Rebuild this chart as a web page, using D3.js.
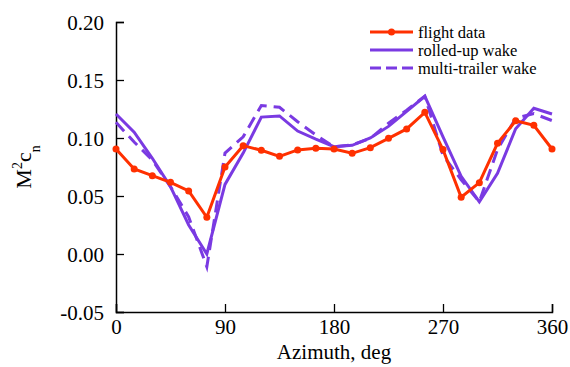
<!DOCTYPE html>
<html><head><meta charset="utf-8">
<script src="https://cdn.jsdelivr.net/npm/d3@7"></script>
<style>body{margin:0;background:#fff}svg{display:block}text{font-family:"Liberation Serif","Times New Roman",serif;fill:#000}</style>
</head><body>
<script>
const azimuth = [0,15,30,45,60,75,90,105,120,135,150,165,180,195,210,225,240,255,270,285,300,315,330,345,360];
const flightData = [0.0905,0.0733,0.0675,0.0618,0.0543,0.0316,0.075,0.0934,0.0894,0.0842,0.0897,0.0911,0.0905,0.0868,0.0917,0.0997,0.1078,0.1221,0.0900,0.0489,0.0615,0.0954,0.1149,0.1109,0.0905];
const rolledUp = [0.1207,0.105,0.0825,0.058,0.025,0.000,0.060,0.087,0.118,0.119,0.106,0.099,0.0925,0.0937,0.100,0.110,0.123,0.136,0.101,0.067,0.045,0.0695,0.108,0.1256,0.1207];
const multiTrailer = [0.1135,0.0965,0.081,0.058,0.032,-0.011,0.087,0.101,0.128,0.1265,0.114,0.1026,0.0925,0.094,0.0997,0.1127,0.124,0.136,0.085,0.064,0.045,0.090,0.117,0.121,0.115];
const xTicks = [0,90,180,270,360];
const yTicks = [-0.05,0,0.05,0.10,0.15,0.20];
const yTickLabels = ["-0.05","0.00","0.05","0.10","0.15","0.20"];
const seriesNames = ["flight data","rolled-up wake","multi-trailer wake"];

const W=570,H=367;
const red="#ff3000", purple="#7a3ae2";
const svg=d3.select("body").append("svg").attr("width",W).attr("height",H);
const x=d3.scaleLinear().domain([0,360]).range([116,552]);
const y=d3.scaleLinear().domain([-0.05,0.20]).range([312,22]);

// axes
const xAxis=d3.axisBottom(x).tickValues(xTicks).tickSize(-8).tickPadding(7).tickFormat(d3.format("d"));
const gx=svg.append("g").attr("transform","translate(0,312)").call(xAxis);
const yAxis=d3.axisLeft(y).tickValues(yTicks).tickSize(-8).tickPadding(12).tickFormat((d,i)=>yTickLabels[i]);
const gy=svg.append("g").attr("transform","translate(116,0)").call(yAxis);
[gx,gy].forEach(g=>{
  g.attr("font-family",null);
  g.select(".domain").attr("stroke","#000").attr("stroke-width",1.5);
  g.selectAll(".tick line").attr("stroke","#000").attr("stroke-width",1.3);
  g.selectAll(".tick text").style("font-family","'Liberation Serif'").style("font-size","21px").attr("fill","#000");
});
gy.selectAll(".tick text").attr("dy","0.35em");

const line=d3.line().x((d,i)=>x(azimuth[i])).y(d=>y(d));
svg.append("path").datum(rolledUp).attr("d",line).attr("fill","none").attr("stroke",purple).attr("stroke-width",3).attr("stroke-linejoin","miter");
svg.append("path").datum(multiTrailer).attr("d",line).attr("fill","none").attr("stroke",purple).attr("stroke-width",3).attr("stroke-dasharray","12,7");
svg.append("path").datum(flightData).attr("d",line).attr("fill","none").attr("stroke",red).attr("stroke-width",3);
svg.selectAll("circle.fd").data(flightData).enter().append("circle").attr("class","fd")
  .attr("cx",(d,i)=>x(azimuth[i])).attr("cy",d=>y(d)).attr("r",3.5).attr("fill",red);

// legend
const lg=svg.append("g");
const ly=[32,50,68];
seriesNames.forEach((n,i)=>{
  const l=lg.append("line").attr("x1",370).attr("x2",413).attr("y1",ly[i]).attr("y2",ly[i])
    .attr("stroke",i==0?red:purple).attr("stroke-width",3);
  if(i==2) l.attr("stroke-dasharray","11,5");
  if(i==0) lg.append("circle").attr("cx",391.5).attr("cy",ly[i]).attr("r",3.5).attr("fill",red);
  lg.append("text").attr("x",418).attr("y",ly[i]+5.5).style("font-size","16.5px").text(n);
});

// titles
svg.append("text").attr("x",334).attr("y",359).attr("text-anchor","middle").style("font-size","21px").text("Azimuth, deg");
const yl=svg.append("text").attr("transform","translate(31,167) rotate(-90)").attr("text-anchor","middle").style("font-size","22px");
yl.append("tspan").text("M");
yl.append("tspan").attr("dy","-9").style("font-size","14px").text("2");
yl.append("tspan").attr("dy","9").text("c");
yl.append("tspan").attr("dy","9").style("font-size","14px").text("n");
</script>
</body></html>
